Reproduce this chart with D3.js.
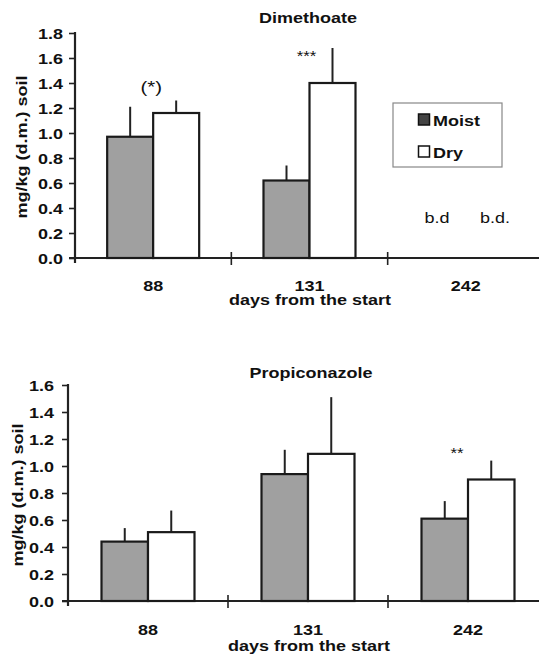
<!DOCTYPE html>
<html><head><meta charset="utf-8">
<script src="https://cdn.jsdelivr.net/npm/d3@7"></script>
<style>
html,body{margin:0;padding:0;background:#fff;}
svg{display:block;}
text{font-family:"Liberation Sans",Arial,Helvetica,sans-serif;}
</style></head>
<body>
<script>
// ---- data ----
const categories = ["88", "131", "242"];
const series = ["Moist", "Dry"];
const dimMoist = [0.97, 0.62, null];
const dimMoistErr = [0.24, 0.12, null];
const dimDry = [1.16, 1.40, null];
const dimDryErr = [0.10, 0.28, null];
const dimTicks = [0, 0.2, 0.4, 0.6, 0.8, 1.0, 1.2, 1.4, 1.6, 1.8];
const dimSig = ["(*)", "***", null];
const dimBelow = ["b.d", "b.d."];
const propMoist = [0.44, 0.94, 0.61];
const propMoistErr = [0.10, 0.18, 0.13];
const propDry = [0.51, 1.09, 0.90];
const propDryErr = [0.16, 0.42, 0.14];
const propTicks = [0, 0.2, 0.4, 0.6, 0.8, 1.0, 1.2, 1.4, 1.6];
const propSig = [null, null, "**"];
const xTitle = "days from the start";
const yTitle = "mg/kg (d.m.) soil";

const W = 539, H = 657, SX = 1.2;
const svg = d3.select("body").append("svg").attr("width", W).attr("height", H);

function txt(g, x, y, s, opt) {
  opt = opt || {};
  return g.append("text")
    .attr("transform", `translate(${x},${y}) rotate(${opt.rot || 0}) scale(${SX},1)`)
    .attr("text-anchor", opt.anchor || "middle")
    .attr("font-size", opt.size || 15)
    .attr("font-weight", opt.weight || "bold")
    .attr("fill", "#111")
    .text(s);
}

function chart(cfg) {
  const g = svg.append("g");
  const y = d3.scaleLinear().domain([0, cfg.ymax]).range([cfg.y0, cfg.y1]);
  const x = d3.scaleBand().domain(categories).range([cfg.x0, cfg.x1]).paddingInner(0).paddingOuter(0);
  const groupW = cfg.groupW;
  const xs = d3.scaleBand().domain(series).range([0, groupW]).padding(0);

  // title
  txt(g, cfg.titleX, cfg.titleY, cfg.title);

  // y axis
  const yAxis = d3.axisLeft(y).tickValues(cfg.ticks).tickFormat(d3.format(".1f")).tickSize(cfg.tickLen).tickPadding(2);
  const ya = g.append("g").attr("transform", `translate(${cfg.x0},0)`).call(yAxis);
  ya.select(".domain").remove();
  ya.selectAll(".tick line").attr("stroke", "#222").attr("stroke-width", 1.6);
  ya.selectAll(".tick text").remove();
  cfg.ticks.forEach(t => {
    txt(g, cfg.labelRight, y(t) + 5.5, d3.format(".1f")(t), {anchor: "end"});
  });
  g.append("line").attr("x1", cfg.x0).attr("x2", cfg.x0)
    .attr("y1", y(cfg.ymax) - 1).attr("y2", y(0) + 5)
    .attr("stroke", "#222").attr("stroke-width", 2.2);

  // x axis line
  g.append("line").attr("x1", cfg.x0 - 6).attr("x2", W)
    .attr("y1", y(0)).attr("y2", y(0)).attr("stroke", "#222").attr("stroke-width", 2);
  // group separators
  categories.slice(1).forEach(c => {
    g.append("line").attr("x1", x(c)).attr("x2", x(c))
      .attr("y1", y(0) - 6).attr("y2", y(0) + 7).attr("stroke", "#222").attr("stroke-width", 1.6);
  });

  // bars
  const vals = {Moist: cfg.moist, Dry: cfg.dry};
  const errs = {Moist: cfg.moistErr, Dry: cfg.dryErr};
  const fills = {Moist: "#a0a0a0", Dry: "#ffffff"};
  categories.forEach((c, i) => {
    const gx = x(c) + x.bandwidth() / 2 - groupW / 2;
    series.forEach(s => {
      const v = vals[s][i];
      if (v == null) return;
      const bx = gx + xs(s);
      g.append("line").attr("x1", bx + xs.bandwidth() / 2).attr("x2", bx + xs.bandwidth() / 2)
        .attr("y1", y(v)).attr("y2", y(v + errs[s][i])).attr("stroke", "#222").attr("stroke-width", 2);
      g.append("rect").attr("x", bx).attr("y", y(v)).attr("width", xs.bandwidth()).attr("height", y(0) - y(v))
        .attr("fill", fills[s]).attr("stroke", "#1a1a1a").attr("stroke-width", 2.2);
    });
    const sg = cfg.sig[i];
    if (sg) {
      const topV = Math.max(cfg.moist[i] + cfg.moistErr[i], cfg.dry[i] + cfg.dryErr[i]);
      txt(g, x(c) + x.bandwidth() / 2 + cfg.sigDx[i], y(topV) - cfg.sigDy[i], sg,
        {weight: "normal", size: sg.startsWith("(") ? 17 : 14});
    }
  });

  // category labels
  categories.forEach(c => txt(g, x(c) + x.bandwidth() / 2, cfg.catY, c));
  txt(g, cfg.xTitleX, cfg.xTitleY, xTitle);
  // y title
  txt(g, cfg.yTitleX, cfg.yTitleY, yTitle, {rot: -90});
  return {g, x, y};
}

const chartTop = chart({
  title: "Dimethoate", titleX: 308, titleY: 23,
  ymax: 1.8, y0: 258, y1: 33, x0: 75, x1: 544, groupW: 92, tickLen: 6, labelRight: 63,
  ticks: dimTicks, moist: dimMoist, moistErr: dimMoistErr, dry: dimDry, dryErr: dimDryErr,
  sig: dimSig, sigDx: [-2, -3, 0], sigDy: [8, -13, 0],
  catY: 291, xTitleX: 310, xTitleY: 305, yTitleX: 27, yTitleY: 147
});
// below detection labels
txt(chartTop.g, 437, 223, dimBelow[0], {weight: "normal"});
txt(chartTop.g, 495, 223, dimBelow[1], {weight: "normal"});
// legend
const lg = chartTop.g.append("g");
lg.append("rect").attr("x", 393).attr("y", 103).attr("width", 109).attr("height", 64)
  .attr("fill", "#fff").attr("stroke", "#888").attr("stroke-width", 1.2);
const legFill = {Moist: "#444", Dry: "#fff"};
series.forEach((s, i) => {
  const yy = 114 + i * 32;
  lg.append("rect").attr("x", 418.5).attr("y", yy).attr("width", 11).attr("height", 11)
    .attr("fill", legFill[s]).attr("stroke", "#111").attr("stroke-width", 1.5);
  txt(lg, 433, yy + 11.5, s, {anchor: "start"});
});

chart({
  title: "Propiconazole", titleX: 311, titleY: 378,
  ymax: 1.6, y0: 601, y1: 385, x0: 68, x1: 548, groupW: 93, tickLen: 6, labelRight: 54,
  ticks: propTicks, moist: propMoist, moistErr: propMoistErr, dry: propDry, dryErr: propDryErr,
  sig: propSig, sigDx: [0, 0, -11], sigDy: [0, 0, 2.5],
  catY: 635, xTitleX: 309, xTitleY: 651, yTitleX: 23, yTitleY: 495
});
</script>
</body></html>
